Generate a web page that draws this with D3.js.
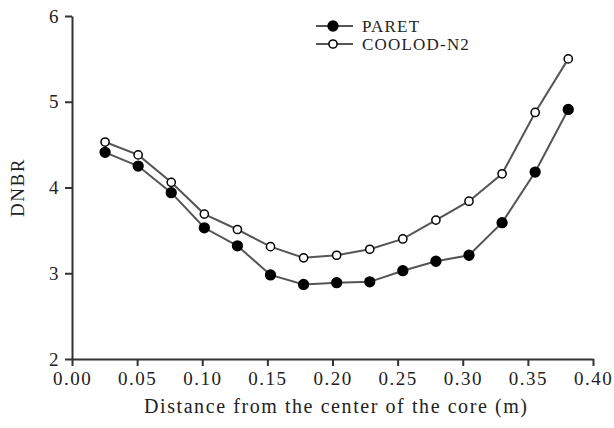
<!DOCTYPE html>
<html>
<head>
<meta charset="utf-8">
<script src="https://cdn.jsdelivr.net/npm/d3@7"></script>
<style>
  body { margin: 0; background: #fff; }
</style>
</head>
<body>
<div id="chart"></div>
<script>
const distance = [0.0254, 0.0508, 0.0762, 0.1016, 0.127, 0.1524, 0.1778, 0.2032,
  0.2286, 0.254, 0.2794, 0.3048, 0.3302, 0.3556, 0.381];
const paret = [4.41, 4.25, 3.94, 3.53, 3.32, 2.98, 2.87, 2.89, 2.90, 3.03, 3.14, 3.21, 3.59, 4.18, 4.91];
const coolod = [4.53, 4.38, 4.06, 3.69, 3.51, 3.31, 3.18, 3.21, 3.28, 3.40, 3.62, 3.84, 4.16, 4.875, 5.50];
const xTicks = [0, 0.05, 0.1, 0.15, 0.2, 0.25, 0.3, 0.35, 0.4];
const yTicks = [2, 3, 4, 5, 6];

const width = 614;
const height = 428;
const margin = { top: 16, right: 21, bottom: 69, left: 72 };
const serif = '"Liberation Serif", "Times New Roman", Times, serif';
const ink = '#222';

const svg = d3.select('#chart')
  .append('svg')
  .attr('width', width)
  .attr('height', height);

const x = d3.scaleLinear().domain([0, 0.4]).range([margin.left, width - margin.right]);
const y = d3.scaleLinear().domain([2, 6]).range([height - margin.bottom, margin.top]);

// axes
const xAxis = svg.append('g')
  .attr('transform', `translate(0, ${y(2)})`)
  .call(d3.axisBottom(x).tickValues(xTicks).tickFormat(d3.format('.2f')).tickSize(7).tickSizeOuter(0).tickPadding(6));

const yAxis = svg.append('g')
  .attr('transform', `translate(${x(0)}, 0)`)
  .call(d3.axisLeft(y).tickValues(yTicks).tickFormat(d3.format('d')).tickSize(7).tickSizeOuter(0).tickPadding(5));

[xAxis, yAxis].forEach((g) => {
  g.select('.domain').attr('stroke', '#333').attr('stroke-width', 2);
  g.selectAll('.tick line').attr('stroke', '#333').attr('stroke-width', 2);
  g.selectAll('.tick text')
    .style('font-family', serif)
    .style('font-size', '19px')
    .style('letter-spacing', '1.5px')
    .attr('fill', ink);
});

// axis titles
svg.append('text')
  .attr('x', 144)
  .attr('y', 413)
  .attr('textLength', 383)
  .attr('lengthAdjust', 'spacing')
  .style('font-family', serif)
  .style('font-size', '20px')
  .attr('fill', ink)
  .text('Distance from the center of the core (m)');

svg.append('text')
  .attr('transform', `translate(24, ${y(4)}) rotate(-90)`)
  .attr('text-anchor', 'middle')
  .style('font-family', serif)
  .style('font-size', '19px')
  .style('letter-spacing', '1.5px')
  .attr('fill', ink)
  .text('DNBR');

const line = d3.line()
  .x((d, i) => x(distance[i]))
  .y((d) => y(d));

const series = [
  { name: 'PARET', values: paret, fill: '#000', r: 4.9 },
  { name: 'COOLOD-N2', values: coolod, fill: '#fff', r: 4.1 }
];

series.forEach((s) => {
  svg.append('path')
    .datum(s.values)
    .attr('fill', 'none')
    .attr('stroke', '#555')
    .attr('stroke-width', 2)
    .attr('d', line);

  svg.selectAll(null)
    .data(s.values)
    .enter()
    .append('circle')
    .attr('cx', (d, i) => x(distance[i]))
    .attr('cy', (d) => y(d))
    .attr('r', s.r)
    .attr('fill', s.fill)
    .attr('stroke', '#000')
    .attr('stroke-width', 1.5);
});

// legend
const legend = svg.append('g').attr('transform', 'translate(316, 26)');
series.forEach((s, i) => {
  const row = legend.append('g').attr('transform', `translate(0, ${i * 18})`);
  row.append('line')
    .attr('x1', 0).attr('x2', 37)
    .attr('stroke', '#555').attr('stroke-width', 2);
  row.append('circle')
    .attr('cx', 17).attr('r', s.r)
    .attr('fill', s.fill).attr('stroke', '#000').attr('stroke-width', 1.5);
  row.append('text')
    .attr('x', 46).attr('dy', '0.35em')
    .style('font-family', serif)
    .style('font-size', '17px')
    .style('letter-spacing', '1.2px')
    .attr('fill', ink)
    .text(s.name);
});
</script>
</body>
</html>
